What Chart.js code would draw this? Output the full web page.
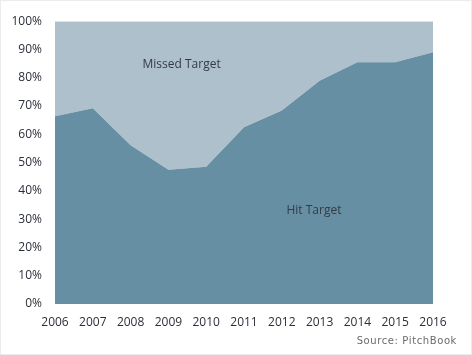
<!DOCTYPE html>
<html>
<head>
<meta charset="utf-8">
<script src="https://cdn.jsdelivr.net/npm/chart.js@4.4.1/dist/chart.umd.min.js"></script>
<style>
  html, body { margin: 0; padding: 0; background: #fff; }
  #wrap { position: relative; width: 470px; height: 353px; border: 1px solid #ececec; }
  canvas { display: block; }
</style>
</head>
<body>
<div id="wrap"><canvas id="c" width="470" height="353"></canvas></div>
<script>
const years = ['2006','2007','2008','2009','2010','2011','2012','2013','2014','2015','2016'];
const hitTarget = [66.4, 69.2, 56.1, 47.5, 48.5, 62.5, 68.4, 78.9, 85.5, 85.5, 89.0];
const missedTarget = [33.6, 30.8, 43.9, 52.5, 51.5, 37.5, 31.6, 21.1, 14.5, 14.5, 11.0];
const yTicks = [0,10,20,30,40,50,60,70,80,90,100];
const areaLabels = [
  { text: 'Missed Target', x: 3.35, y: 84.5 },
  { text: 'Hit Target', x: 6.85, y: 33.0 }
];

const labelPlugin = {
  id: 'areaLabels',
  afterDatasetsDraw(chart) {
    const ctx = chart.ctx;
    const xs = chart.scales.x, ys = chart.scales.y;
    ctx.save();
    ctx.font = '12px "Open Sans"';
    ctx.fillStyle = '#353a45';
    ctx.textAlign = 'center';
    ctx.textBaseline = 'middle';
    areaLabels.forEach(l => {
      ctx.fillText(l.text, xs.getPixelForValue(l.x), ys.getPixelForValue(l.y));
    });
    ctx.font = '10px "DejaVu Sans"';
    ctx.fillStyle = '#6b6b6b';
    ctx.textAlign = 'right';
    if ('letterSpacing' in ctx) ctx.letterSpacing = '0.6px';
    ctx.fillText('Source: PitchBook', 456, 340);
    ctx.restore();
  }
};

new Chart(document.getElementById('c'), {
  type: 'line',
  data: {
    labels: years,
    datasets: [
      { label: 'Hit Target', data: hitTarget, fill: 'origin', backgroundColor: '#678fa3',
        borderWidth: 0, pointRadius: 0, tension: 0 },
      { label: 'Missed Target', data: missedTarget, fill: '-1', backgroundColor: '#adc0cb',
        borderWidth: 0, pointRadius: 0, tension: 0 }
    ]
  },
  options: {
    responsive: false,
    animation: false,
    layout: { padding: { left: 0, right: 38, top: 18, bottom: 0 } },
    plugins: { legend: { display: false }, tooltip: { enabled: false } },
    scales: {
      x: {
        offset: false,
        grid: { display: false, drawTicks: false },
        border: { display: false },
        ticks: { padding: 11, color: '#2b2f38', font: { family: 'Open Sans', size: 12 }, maxRotation: 0, autoSkip: false },
        afterFit(s) { s.height = 50; }
      },
      y: {
        stacked: true,
        min: 0, max: 100,
        grid: { display: false, drawTicks: false },
        border: { display: false },
        afterBuildTicks(s) { s.ticks = yTicks.map(v => ({ value: v })); },
        ticks: { padding: 13, color: '#2b2f38', font: { family: 'Open Sans', size: 12 }, callback: v => v + '%' },
        afterFit(s) { s.width = 54; }
      }
    }
  },
  plugins: [labelPlugin]
});
</script>
</body>
</html>
